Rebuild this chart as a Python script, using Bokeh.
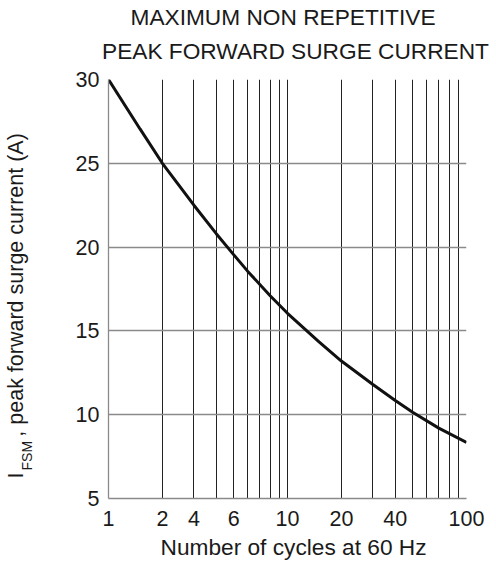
from bokeh.plotting import figure
from bokeh.models import Range1d, FixedTicker, Title
from bokeh.embed import file_html
from bokeh.resources import INLINE

# ---- data ----
cycles = [1, 1.5, 2, 3, 4, 5, 6, 8, 10, 15, 20, 30, 40, 50, 70, 100]
current = [30.0, 27.05, 25.0, 22.5, 20.8, 19.55, 18.55, 17.1, 16.05, 14.35, 13.2, 11.8, 10.85, 10.15, 9.2, 8.35]

x_tick_pos = [1, 2, 3, 5, 10, 20, 40, 100]
x_tick_labels = ["1", "2", "4", "6", "10", "20", "40", "100"]
x_grid = [1, 2, 3, 4, 5, 6, 7, 8, 9, 10, 20, 30, 40, 50, 60, 70, 80, 90, 100]
y_ticks = [5, 10, 15, 20, 25, 30]

title_lines = ["MAXIMUM NON REPETITIVE", "PEAK FORWARD SURGE CURRENT"]
x_label = "Number of cycles at 60 Hz"
y_label_main = "I" + "\u00a0" * 6 + ", peak forward surge current (A)"
y_label_sub = "FSM"

FONT = "Liberation Sans"
INK = "#1a1a1a"

p = figure(width=496, height=568, x_axis_type="log",
           x_range=Range1d(1, 100), y_range=Range1d(5, 30),
           output_backend="svg", toolbar_location=None,
           min_border_left=108, min_border_right=30,
           min_border_top=79, min_border_bottom=70)
p.outline_line_color = None
p.background_fill_color = "white"
p.border_fill_color = "white"

# grids
p.xgrid.ticker = FixedTicker(ticks=x_grid)
p.xgrid.grid_line_color = "#222222"
p.xgrid.grid_line_width = 1
p.ygrid.ticker = FixedTicker(ticks=y_ticks)
p.ygrid.grid_line_color = "#8a8a8a"
p.ygrid.grid_line_width = 1.3

# axes
p.xaxis.ticker = FixedTicker(ticks=x_tick_pos)
p.xaxis.major_label_overrides = {t: l for t, l in zip(x_tick_pos, x_tick_labels)}
p.yaxis.ticker = FixedTicker(ticks=y_ticks)
for ax in (p.xaxis, p.yaxis):
    ax.major_tick_in = 0
    ax.major_tick_out = 0
    ax.minor_tick_in = 0
    ax.minor_tick_out = 0
    ax.axis_line_color = "#8a8a8a"
    ax.axis_line_width = 1.3
    ax.major_label_text_font = FONT
    ax.major_label_text_font_size = "21.5px"
    ax.major_label_text_color = INK
p.xaxis.major_label_standoff = 12
p.yaxis.major_label_standoff = 9

# curve
p.line(cycles, current, line_width=3, line_color="#111111")

# titles above (index 0 is closest to the frame)
t2 = Title(text=title_lines[1], align="left", offset=-6.5, standoff=32,
           text_font=FONT, text_font_size="22.7px", text_font_style="normal", text_color=INK)
t1 = Title(text=title_lines[0], align="left", offset=22, standoff=-21.6,
           text_font=FONT, text_font_size="22.7px", text_font_style="normal", text_color=INK)
p.above = [t2, t1]

# x label below
xt = Title(text=x_label, align="left", offset=52, standoff=6,
           text_font=FONT, text_font_size="22.7px", text_font_style="normal", text_color=INK)
p.below = [p.xaxis[0], xt]

# y label: blank spacer + subscript + main text
spacer = Title(text="\u00a0", standoff=12, text_font=FONT, text_font_size="21.5px",
               text_font_style="normal", text_color=INK)
sub = Title(text=y_label_sub, align="left", offset=28, standoff=0,
            text_font=FONT, text_font_size="14px", text_font_style="normal", text_color=INK)
main = Title(text=y_label_main, align="left", offset=20, standoff=-22.4,
             text_font=FONT, text_font_size="21.5px", text_font_style="normal", text_color=INK)
p.left = [p.yaxis[0], spacer, sub, main]

open("out.html", "w").write(file_html(p, INLINE))
